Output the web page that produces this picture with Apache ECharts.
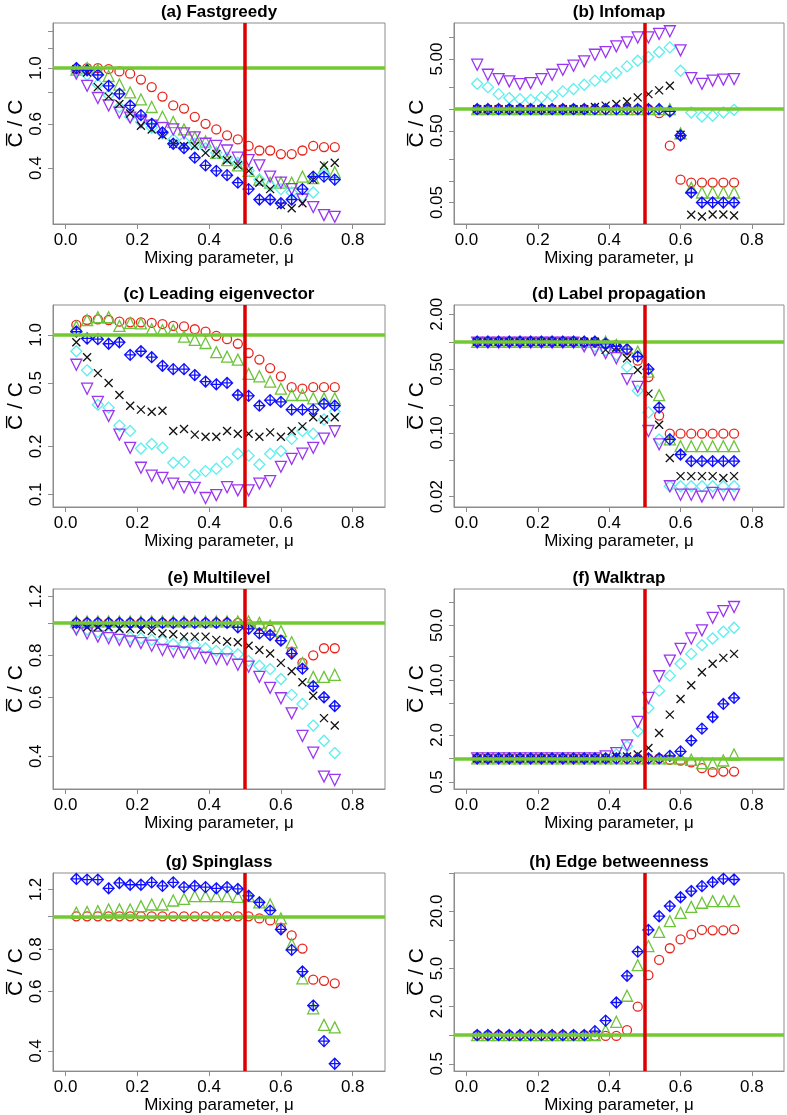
<!DOCTYPE html>
<html>
<head>
<meta charset="utf-8">
<script src="https://cdn.jsdelivr.net/npm/echarts@6/dist/echarts.min.js"></script>
<style>
  html, body { margin: 0; padding: 0; background: #fff; }
  #chart { width: 787px; height: 1115px; }
</style>
</head>
<body>
<div id="chart"></div>
<script>
// ---------------- DATA ----------------
const X = [0.03,0.06,0.09,0.12,0.15,0.18,0.21,0.24,0.27,0.30,0.33,0.36,0.39,0.42,0.45,0.48,0.51,0.54,0.57,0.60,0.63,0.66,0.69,0.72,0.75];
const xTickLabels = [0.0, 0.2, 0.4, 0.6, 0.8];

// (a) Fastgreedy
const aRed    = [0.99,1.0,1.0,0.99,0.97,0.95,0.90,0.84,0.77,0.71,0.69,0.64,0.60,0.57,0.54,0.52,0.49,0.47,0.47,0.455,0.455,0.47,0.49,0.485,0.485];
const aGreen  = [0.985,1.0,0.985,0.93,0.86,0.80,0.75,0.70,0.64,0.61,0.57,0.53,0.51,0.46,0.43,0.41,0.39,0.36,0.35,0.35,0.35,0.37,0.365,0.40,0.385];
const aBlue   = [1.0,0.98,0.94,0.85,0.79,0.71,0.65,0.60,0.555,0.50,0.48,0.44,0.41,0.39,0.375,0.35,0.33,0.30,0.30,0.29,0.30,0.33,0.37,0.37,0.36];
const aBlack  = [0.99,0.96,0.84,0.77,0.72,0.66,0.59,0.57,0.54,0.50,0.49,0.49,0.46,0.455,0.43,0.41,0.39,0.35,0.33,0.285,0.277,0.29,0.36,0.41,0.42];
const aCyan   = [0.97,0.94,0.86,0.78,0.70,0.64,0.61,0.58,0.55,0.52,0.51,0.50,0.48,0.46,0.44,0.42,0.39,0.36,0.34,0.33,0.32,0.31,0.32,0.38,0.36];
const aPurple = [0.95,0.85,0.76,0.71,0.665,0.635,0.61,0.59,0.577,0.57,0.55,0.53,0.50,0.49,0.47,0.44,0.43,0.41,0.37,0.35,0.33,0.30,0.28,0.26,0.256];

// (b) Infomap
const bRed    = [1,1,1,1,1,1,1,1,1,1,1,1,1,1,1,1,1,0.88,0.31,0.104,0.095,0.095,0.095,0.095,0.095];
const bGreen  = [1,1,1,1,1,1,1,1,1,1,1,1,1,1,1,1,1,1,1,0.46,0.080,0.069,0.069,0.069,0.069];
const bBlue   = [1,1,1,1,1,1,1,1,1,1,1,1,1,1,1,1,1,1,0.93,0.43,0.069,0.05,0.05,0.05,0.05];
const bBlack  = [1,1,1,1,1,1,1,1,1,1,1,1.07,1.12,1.18,1.28,1.46,1.62,1.83,2.12,0.44,0.0337,0.032,0.034,0.034,0.033];
const bCyan   = [2.26,2.03,1.62,1.43,1.38,1.35,1.46,1.54,1.77,1.91,2.19,2.50,2.81,3.19,3.95,4.74,5.34,6.26,7.27,3.44,0.90,0.79,0.81,0.90,0.98];
const bPurple = [4.17,3.02,2.63,2.44,2.24,2.31,2.63,3.02,3.54,4.04,4.64,5.74,6.26,7.51,8.54,10.0,10.0,11.2,12.2,6.6,2.71,2.26,2.5,2.58,2.63];

// (c) Leading eigenvector
const cRed    = [1.155,1.24,1.25,1.24,1.21,1.2,1.2,1.19,1.17,1.14,1.13,1.085,1.05,0.986,0.94,0.88,0.77,0.70,0.62,0.55,0.47,0.46,0.47,0.47,0.47];
const cGreen  = [1.13,1.24,1.29,1.29,1.14,1.19,1.18,1.085,1.07,1.07,0.976,0.93,0.89,0.78,0.73,0.70,0.57,0.55,0.51,0.46,0.42,0.42,0.40,0.40,0.40];
const cBlue   = [1.05,0.95,0.94,0.88,0.90,0.75,0.79,0.725,0.64,0.61,0.61,0.56,0.51,0.49,0.50,0.42,0.415,0.36,0.39,0.38,0.34,0.34,0.34,0.37,0.36];
const cBlack  = [0.90,0.725,0.576,0.50,0.42,0.36,0.34,0.33,0.335,0.25,0.257,0.237,0.23,0.23,0.25,0.24,0.24,0.23,0.245,0.23,0.25,0.267,0.305,0.295,0.305];
const cCyan   = [0.79,0.60,0.365,0.35,0.27,0.25,0.194,0.207,0.196,0.158,0.16,0.133,0.14,0.145,0.16,0.18,0.175,0.154,0.18,0.187,0.223,0.25,0.24,0.295,0.33];
const cPurple = [0.65,0.46,0.38,0.31,0.237,0.196,0.147,0.131,0.127,0.117,0.111,0.11,0.095,0.099,0.111,0.106,0.106,0.117,0.121,0.149,0.167,0.18,0.196,0.224,0.249];

// (d) Label propagation
const dRed    = [1,1,1,1,1,1,1,1,1,1,1,1,0.96,0.92,0.81,0.62,0.41,0.155,0.098,0.098,0.098,0.098,0.098,0.098,0.098];
const dGreen  = [1,1,1,1,1,1,1,1,1,1,1,1,1,0.92,0.85,0.78,0.47,0.26,0.085,0.0715,0.0715,0.0715,0.0715,0.0715,0.0715];
const dBlue   = [1,1,1,1,1,1,1,1,1,1,1,1,0.95,0.89,0.83,0.69,0.50,0.19,0.085,0.058,0.049,0.049,0.049,0.049,0.049];
const dBlack  = [1,1,1,1,1,1,1,1,1,1,1,1,0.815,0.86,0.66,0.49,0.27,0.123,0.053,0.0336,0.0336,0.0336,0.0336,0.032,0.0336];
const dCyan   = [1,1,1,1,1,1,1,1,1,1,0.92,0.89,0.81,0.72,0.53,0.29,0.168,0.085,0.026,0.026,0.026,0.026,0.026,0.026,0.026];
const dPurple = [0.98,0.98,0.98,0.98,0.98,0.98,0.98,0.98,0.98,0.98,0.89,0.81,0.75,0.66,0.39,0.32,0.105,0.075,0.026,0.021,0.021,0.020,0.022,0.021,0.021];

// (e) Multilevel
const eRed    = [1,1,1,1,1,1,1,1,1,1,1,1,1,1,1,1,0.99,0.98,0.955,0.89,0.82,0.76,0.80,0.84,0.84];
const eGreen  = [1.01,1.01,1.01,1.01,1.01,1.01,1.01,1.01,1.01,1.01,1.01,1.01,1.01,1.01,1.01,1.01,1.01,1.0,0.98,0.945,0.875,0.76,0.69,0.69,0.70];
const eBlue   = [1,1,1,1,1,1,1,1,1,1,1,1,1,1,1,0.97,0.96,0.93,0.92,0.885,0.81,0.73,0.647,0.60,0.565];
const eBlack  = [0.99,0.97,0.97,0.97,0.96,0.96,0.955,0.945,0.93,0.925,0.91,0.91,0.91,0.89,0.88,0.875,0.855,0.83,0.81,0.76,0.717,0.665,0.606,0.52,0.494];
const eCyan   = [0.97,0.955,0.94,0.925,0.92,0.905,0.90,0.89,0.885,0.865,0.865,0.86,0.84,0.825,0.825,0.806,0.77,0.745,0.728,0.68,0.61,0.573,0.494,0.445,0.409];
const ePurple = [0.955,0.93,0.91,0.90,0.89,0.88,0.87,0.855,0.83,0.82,0.815,0.81,0.787,0.78,0.778,0.75,0.74,0.69,0.64,0.596,0.537,0.46,0.41,0.348,0.34];

// (f) Walktrap
const fRed    = [1,1,1,1,1,1,1,1,1,1,1,1,1,1,1,1,1,1,0.96,0.94,0.89,0.75,0.67,0.68,0.68];
const fGreen  = [1,1,1,1,1,1,1,1,1,1,1,1,1,1,1,1,1,1,1,1,0.96,0.87,0.86,0.94,1.12];
const fBlue   = [1,1,1,1,1,1,1,1,1,1,1,1,1,1,1,1,1,1,1.08,1.23,1.69,2.40,3.38,4.96,5.92];
const fBlack  = [1,1,1,1,1,1,1,1,1,1,1,1,1,1.06,1.06,1.12,1.36,2.11,3.62,5.74,8.58,12.6,16.2,19.2,21.6];
const fCyan   = [1,1,1,1,1,1,1,1,1,1,1,1,1,1.12,1.43,2.22,4.40,7.33,11.4,16.2,21.6,27.9,34.0,41.4,46.6];
const fPurple = [1,1,1,1,1,1,1,1,1,1,1,1,1.06,1.17,1.47,2.92,5.92,11.2,17.7,25.1,34.0,43.1,62.4,76.1,85.7];

// (g) Spinglass
const gRed    = [1,1,1,1,1,1,1,1,1,1,1,1,1,1,1,1,1,0.986,0.973,0.926,0.879,0.803,0.65,0.645,0.634];
const gGreen  = [1.025,1.03,1.036,1.048,1.048,1.048,1.072,1.084,1.084,1.114,1.126,1.147,1.147,1.147,1.147,1.142,1.147,1.10,1.084,0.986,0.827,0.656,0.535,0.478,0.47];
const gBlue   = [1.29,1.284,1.284,1.21,1.255,1.24,1.24,1.26,1.23,1.26,1.22,1.23,1.22,1.21,1.22,1.205,1.15,1.10,1.04,0.915,0.796,0.687,0.545,0.428,0.367];

// (h) Edge betweenness
const hRed    = [1,1,1,1,1,1,1,1,1,1,1,0.98,0.98,0.98,1.13,1.99,4.26,6.15,8.16,10.1,11.4,12.7,12.6,12.6,12.9];
const hGreen  = [1,1,1,1,1,1,1,1,1,1,1,1,1.12,1.38,2.59,5.42,8.60,12.1,15.7,19.2,22.2,24.5,25.5,25.5,25.5];
const hBlue   = [1,1,1,1,1,1,1,1,1,1,1,1.10,1.42,2.20,4.19,7.52,12.7,17.7,22.6,28.0,32.5,36.6,40.3,43.7,43.0];

// Titles and y-axis ticks
const titles = ['(a) Fastgreedy','(b) Infomap','(c) Leading eigenvector','(d) Label propagation','(e) Multilevel','(f) Walktrap','(g) Spinglass','(h) Edge betweenness'];
const yTicks = [
  [0.4,0.6,0.8,1.0,1.2,1.4],
  [0.05,0.1,0.2,0.5,1,2,5,10],
  [0.1,0.2,0.5,1.0],
  [0.02,0.05,0.1,0.2,0.5,1,2],
  [0.4,0.6,0.8,1.0,1.2],
  [0.5,1,2,5,10,20,50,100],
  [0.4,0.6,0.8,1.0,1.2],
  [0.5,1,2,5,10,20,50]
];
const yTickLabels = [
  [0.4,0.6,1.0],
  [0.05,0.5,5],
  [0.1,0.2,0.5,1.0],
  [0.02,0.1,0.5,2],
  [0.4,0.6,0.8,1.2],
  [0.5,2,10,50],
  [0.4,0.6,0.8,1.2],
  [0.5,2,5,20]
];
const yLabelDecimals = [1,2,1,2,1,1,1,1];
const yRanges = [[0.2397,1.511],[0.0251,15.9],[0.0834,1.54],[0.0154,2.53],[0.3195,1.262],[0.407,145.5],[0.349,1.343],[0.419,50.3]];

const panelSeries = [
  [['red',aRed],['green',aGreen],['cyan',aCyan],['purple',aPurple],['black',aBlack],['blue',aBlue]],
  [['red',bRed],['green',bGreen],['cyan',bCyan],['purple',bPurple],['black',bBlack],['blue',bBlue]],
  [['red',cRed],['green',cGreen],['cyan',cCyan],['purple',cPurple],['black',cBlack],['blue',cBlue]],
  [['red',dRed],['green',dGreen],['cyan',dCyan],['purple',dPurple],['black',dBlack],['blue',dBlue]],
  [['red',eRed],['green',eGreen],['cyan',eCyan],['purple',ePurple],['black',eBlack],['blue',eBlue]],
  [['red',fRed],['green',fGreen],['cyan',fCyan],['purple',fPurple],['black',fBlack],['blue',fBlue]],
  [['red',gRed],['green',gGreen],['blue',gBlue]],
  [['red',hRed],['green',hGreen],['blue',hBlue]]
];

// ---------------- LAYOUT / STYLE ----------------
const FONT = '"Liberation Sans", Arial, Helvetica, sans-serif';
const colLeft = [53, 454];
const colWidth = [332, 330];
const rowTop = [23, 305, 589, 873];
const rowHeight = [201, 202, 200, 199];
const AXIS_GRAY = '#8c8c8c';

const DIAMOND_PLUS = 'path://M0,-10L10,0L0,10L-10,0Z M0,-10L0,10 M-10,0L10,0';
const CROSS_X = 'path://M-10,-10L10,10 M-10,10L10,-10';
const markerStyles = {
  red:    {symbol:'circle',   size:9,  rotate:0,   color:'#e8251c'},
  green:  {symbol:'triangle', size:11, rotate:0,   color:'#6cc43a'},
  blue:   {symbol:DIAMOND_PLUS, size:11, rotate:0, color:'#1010ff'},
  black:  {symbol:CROSS_X,    size:8,  rotate:0,   color:'#111111'},
  cyan:   {symbol:'diamond',  size:11, rotate:0,   color:'#5eeeee'},
  purple: {symbol:'triangle', size:11, rotate:180, color:'#9a35f0'}
};

const option = {
  animation: false,
  backgroundColor: '#ffffff',
  textStyle: {fontFamily: FONT},
  grid: [], xAxis: [], yAxis: [], series: [], graphic: []
};

for (let i = 0; i < 8; i++) {
  const col = i % 2, row = Math.floor(i / 2);
  const left = colLeft[col], width = colWidth[col];
  const top = rowTop[row], height = rowHeight[row];
  option.grid.push({left: left, top: top, width: width, height: height,
    show: true, borderColor: AXIS_GRAY, borderWidth: 1, backgroundColor: 'transparent', containLabel: false});
  option.xAxis.push({
    gridIndex: i, type: 'value', min: -0.035, max: 0.89,
    axisLine: {show: true, onZero: false, lineStyle: {color: AXIS_GRAY, width: 1}},
    splitLine: {show: false},
    axisTick: {show: true, inside: false, length: 5, lineStyle: {color: AXIS_GRAY}, customValues: xTickLabels},
    axisLabel: {customValues: xTickLabels, formatter: v => Number(v).toFixed(1), fontSize: 17, color: '#000', margin: 8, fontFamily: FONT},
    name: 'Mixing parameter, \u03bc', nameLocation: 'middle', nameGap: 24,
    nameTextStyle: {fontSize: 17, color: '#000', fontFamily: FONT, verticalAlign: 'top'}
  });
  const dec = yLabelDecimals[i];
  option.yAxis.push({
    gridIndex: i, type: 'value',
    min: Math.log10(yRanges[i][0]), max: Math.log10(yRanges[i][1]),
    axisLine: {show: true, onZero: false, lineStyle: {color: AXIS_GRAY, width: 1}},
    splitLine: {show: false},
    axisTick: {show: true, inside: false, length: 5, lineStyle: {color: AXIS_GRAY}, customValues: yTicks[i].map(Math.log10)},
    axisLabel: {customValues: yTickLabels[i].map(Math.log10), rotate: 90, formatter: v => Math.pow(10, v).toFixed(dec),
      fontSize: 17, color: '#000', margin: 8, fontFamily: FONT},
    name: 'C\u0305 / C', nameLocation: 'middle', nameGap: 24, nameRotate: 90,
    nameTextStyle: {fontSize: 21, color: '#000', fontFamily: FONT}
  });
  // data series
  panelSeries[i].forEach(([key, vals]) => {
    const st = markerStyles[key];
    option.series.push({
      type: 'scatter', xAxisIndex: i, yAxisIndex: i, silent: true,
      symbol: st.symbol, symbolSize: st.size, symbolRotate: st.rotate,
      itemStyle: {color: 'rgba(0,0,0,0)', borderColor: st.color, borderWidth: 1.3, opacity: 1},
      data: X.map((x, k) => [x, Math.log10(vals[k])]),
      z: 2
    });
  });
  // reference lines: green at C̄/C = 1, red at μ = 0.5
  option.series.push({
    type: 'scatter', xAxisIndex: i, yAxisIndex: i, silent: true, data: [], z: 5,
    markLine: {silent: true, symbol: ['none','none'], label: {show: false}, animation: false,
      lineStyle: {color: '#73c932', width: 3.5, type: 'solid'},
      data: [{yAxis: Math.log10(1)}]}
  });
  option.series.push({
    type: 'scatter', xAxisIndex: i, yAxisIndex: i, silent: true, data: [], z: 6,
    markLine: {silent: true, symbol: ['none','none'], label: {show: false}, animation: false,
      lineStyle: {color: '#dd0000', width: 3.5, type: 'solid'},
      data: [{xAxis: 0.5}]}
  });
  // panel title
  option.graphic.push({
    type: 'text', x: left + width / 2, y: top - 11, silent: true,
    style: {text: titles[i], fill: '#000', font: 'bold 17px ' + FONT, align: 'center', verticalAlign: 'middle'}
  });
}

const chart = echarts.init(document.getElementById('chart'), null, {renderer: 'canvas'});
chart.setOption(option);
</script>
</body>
</html>
